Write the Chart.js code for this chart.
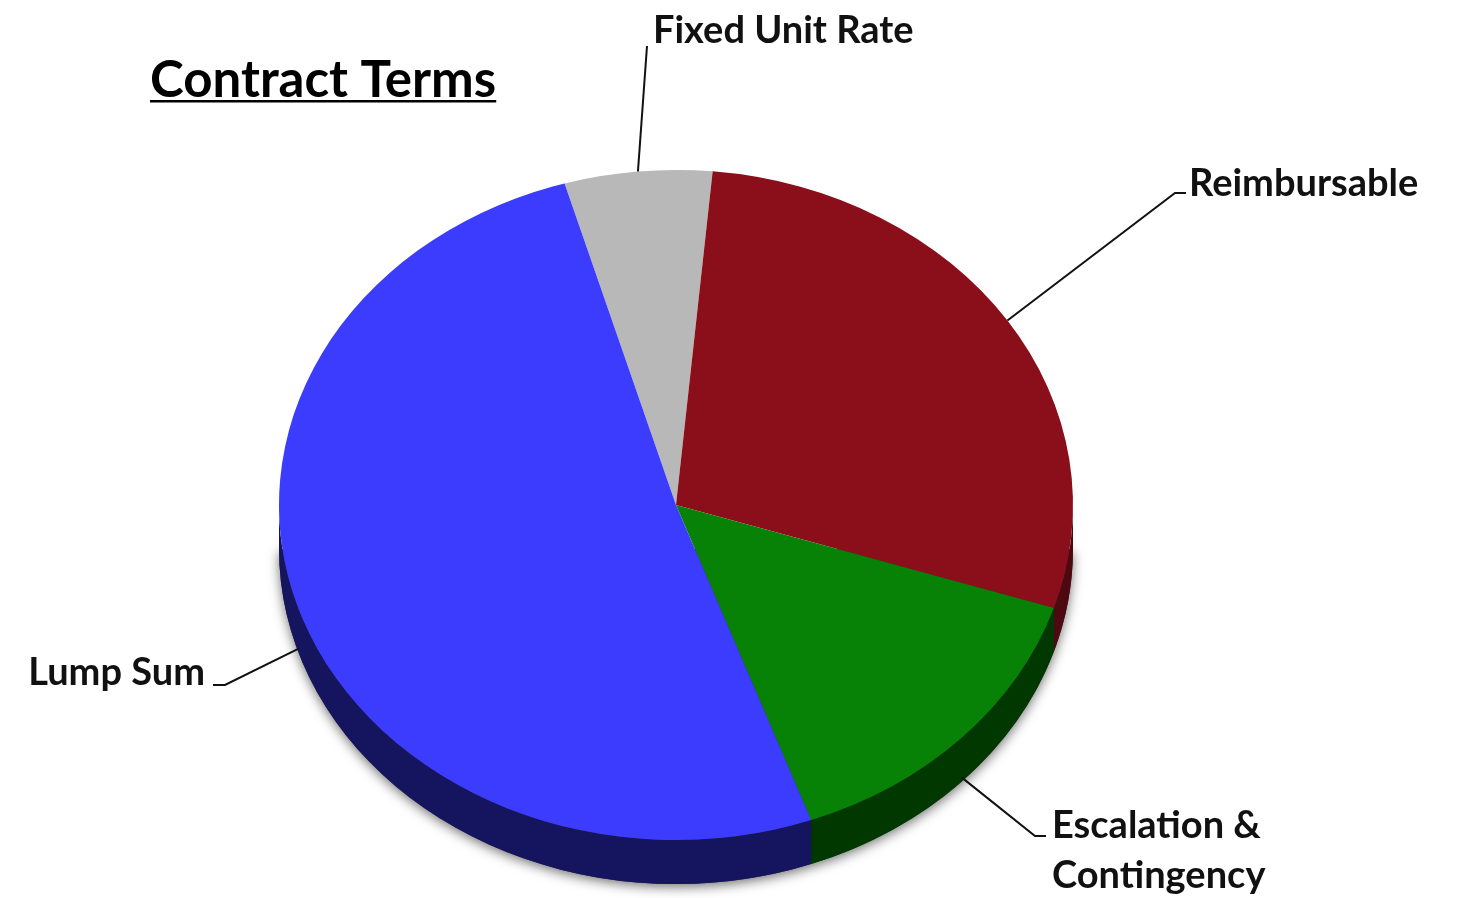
<!DOCTYPE html>
<html>
<head>
<meta charset="utf-8">
<script src="https://cdn.jsdelivr.net/npm/chart.js@4"></script>
<style>
  html, body { margin: 0; padding: 0; background: #fff; }
  #wrap { width: 1462px; height: 898px; }
</style>
</head>
<body>
<div id="wrap"><canvas id="pie" width="1462" height="898"></canvas></div>
<script>
// data (percent of contract value)
const categories = ['Fixed Unit Rate', 'Reimbursable', 'Escalation & Contingency', 'Lump Sum'];
const shares = [6, 28.5, 14.5, 51];
const labelLines = [['Fixed Unit Rate'], ['Reimbursable'], ['Escalation &', 'Contingency'], ['Lump Sum']];
const topColors = ['#b8b8b8', '#8a0f1b', '#078207', '#3c3cff'];
const sideColors = ['#707070', '#4e0810', '#003800', '#15155f'];

// 3d look: squash factor, depth and where the ellipse centre lands
const tilt = 0.844;
const depth = 44;
const centreY = 505;

// where each callout goes (elbow, end of the short tick, text anchor)
const callouts = [
  { elbow: [647, 46], tick: null, text: [653, 43], align: 'left' },
  { elbow: [1175, 193], tick: [1186, 193], text: [1189, 196], align: 'left' },
  { elbow: [1035, 836], tick: [1046, 836], text: [1052, 838], align: 'left' },
  { elbow: [225, 685], tick: [213, 685], text: [205, 685], align: 'right' }
];

function overlap(a, b, lo, hi) {
  // returns part of [a,b] that falls inside [lo,hi], trying 2pi shifts
  const out = [];
  for (let k = -2; k <= 2; k++) {
    const s = Math.max(a + k * 2 * Math.PI, lo);
    const e = Math.min(b + k * 2 * Math.PI, hi);
    if (e > s) out.push([s, e]);
  }
  return out;
}

const pie3d = {
  id: 'pie3d',
  beforeDatasetsDraw(chart) {
    const ctx = chart.ctx;
    const arcs = chart.getDatasetMeta(0).data;
    if (!arcs.length) return;
    const cx = arcs[0].x;
    const r = arcs[0].outerRadius;
    const ry = r * tilt;

    // soft shadow under the disc
    ctx.save();
    ctx.shadowColor = 'rgba(0,0,0,0.55)';
    ctx.shadowBlur = 12;
    ctx.shadowOffsetY = 3;
    ctx.fillStyle = '#333';
    ctx.beginPath();
    ctx.ellipse(cx, centreY + depth, r, ry, 0, 0, Math.PI);
    ctx.closePath();
    ctx.fill();
    ctx.restore();

    // front walls
    arcs.forEach((arc, i) => {
      overlap(arc.startAngle, arc.endAngle, 0, Math.PI).forEach(([a, b]) => {
        ctx.save();
        ctx.fillStyle = sideColors[i];
        ctx.beginPath();
        ctx.ellipse(cx, centreY, r, ry, 0, a, b);
        ctx.ellipse(cx, centreY + depth, r, ry, 0, b, a, true);
        ctx.closePath();
        ctx.fill();
        ctx.restore();
      });
    });

    // squash the top face
    ctx.save();
    const y0 = arcs[0].y;
    ctx.translate(0, centreY);
    ctx.scale(1, tilt);
    ctx.translate(0, -y0);
  },
  afterDatasetsDraw(chart) {
    chart.ctx.restore();
  },
  afterDraw(chart) {
    const ctx = chart.ctx;
    const arcs = chart.getDatasetMeta(0).data;
    const cx = arcs[0].x;
    const r = arcs[0].outerRadius;
    const ry = r * tilt;

    // title
    ctx.save();
    ctx.fillStyle = '#000';
    ctx.font = 'bold 51px Lato';
    ctx.textBaseline = 'alphabetic';
    ctx.textAlign = 'left';
    ctx.fillText('Contract Terms', 150, 97);
    const tw = ctx.measureText('Contract Terms').width;
    ctx.fillRect(150, 100, tw, 2.5);
    ctx.restore();

    // callouts
    arcs.forEach((arc, i) => {
      const mid = (arc.startAngle + arc.endAngle) / 2;
      let ax = cx + r * Math.cos(mid);
      let ay = centreY + ry * Math.sin(mid);
      if (Math.sin(mid) > 0) ay += depth * 0.9;
      const c = callouts[i];
      ctx.save();
      ctx.strokeStyle = '#111';
      ctx.lineWidth = 2;
      ctx.beginPath();
      ctx.moveTo(ax, ay);
      ctx.lineTo(c.elbow[0], c.elbow[1]);
      if (c.tick) ctx.lineTo(c.tick[0], c.tick[1]);
      ctx.stroke();
      ctx.fillStyle = '#111';
      ctx.font = 'bold 38px Lato';
      ctx.textAlign = c.align;
      labelLines[i].forEach((line, j) => {
        ctx.fillText(line, c.text[0], c.text[1] + j * 50);
      });
      ctx.restore();
    });
  }
};

new Chart(document.getElementById('pie'), {
  type: 'pie',
  data: {
    labels: categories,
    datasets: [{
      data: shares,
      backgroundColor: topColors,
      borderWidth: 0
    }]
  },
  options: {
    responsive: false,
    animation: false,
    rotation: -16.3,
    layout: { padding: { left: 279, right: 389, top: 52, bottom: 52 } },
    plugins: {
      legend: { display: false },
      tooltip: { enabled: false }
    }
  },
  plugins: [pie3d]
});
</script>
</body>
</html>
